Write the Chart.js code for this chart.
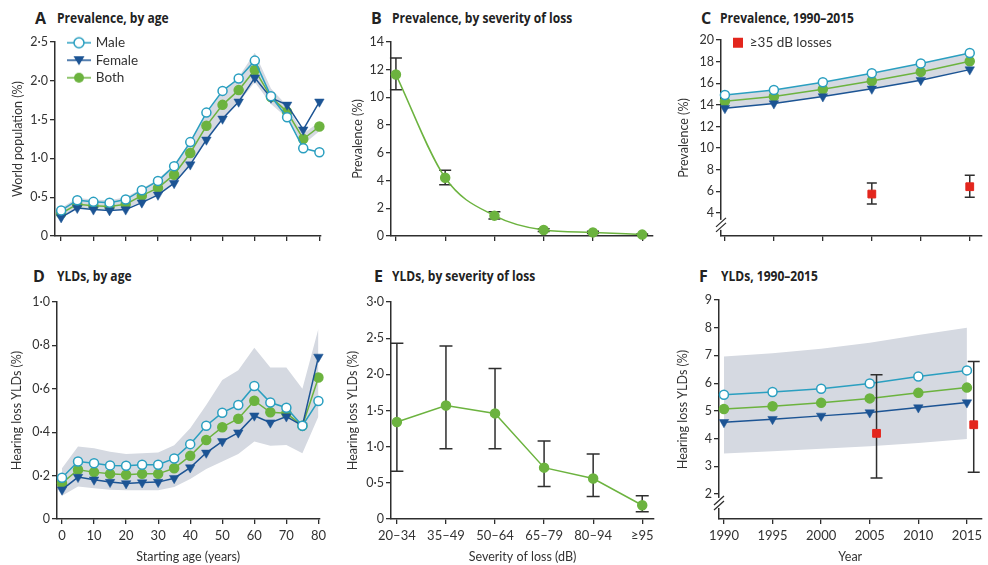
<!DOCTYPE html>
<html><head><meta charset="utf-8">
<script src="https://cdn.jsdelivr.net/npm/chart.js@4.4.1/dist/chart.umd.min.js"></script>
<style>
body{margin:0;background:#fff;width:988px;height:565px;position:relative;overflow:hidden;}
canvas{position:absolute;}
.ttl{position:absolute;white-space:nowrap;color:#222;font-family:"Liberation Sans Narrow","Liberation Sans",sans-serif;}
.ttl .L{position:absolute;font-weight:700;font-size:16px;font-family:"Open Sans",sans-serif;}
.ttl .T{position:absolute;font-weight:700;font-size:14px;transform:scaleX(0.86);transform-origin:0 50%;font-family:"Open Sans",sans-serif;}
</style></head><body>
<div class="ttl" style="left:0;top:0"><span class="L" style="left:35px;top:7px">A</span><span class="T" style="left:57px;top:8px">Prevalence, by age</span></div>
<div class="ttl" style="left:0;top:0"><span class="L" style="left:371px;top:7px">B</span><span class="T" style="left:392px;top:8px">Prevalence, by severity of loss</span></div>
<div class="ttl" style="left:0;top:0"><span class="L" style="left:701px;top:7px">C</span><span class="T" style="left:720px;top:8px">Prevalence, 1990–2015</span></div>
<div class="ttl" style="left:0;top:0"><span class="L" style="left:33px;top:265px">D</span><span class="T" style="left:57px;top:266px">YLDs, by age</span></div>
<div class="ttl" style="left:0;top:0"><span class="L" style="left:374px;top:265px">E</span><span class="T" style="left:392px;top:266px">YLDs, by severity of loss</span></div>
<div class="ttl" style="left:0;top:0"><span class="L" style="left:699px;top:265px">F</span><span class="T" style="left:721px;top:266px">YLDs, 1990–2015</span></div>
<canvas id="cA" width="330" height="230" style="left:0;top:30px"></canvas>
<canvas id="cB" width="330" height="230" style="left:330px;top:30px"></canvas>
<canvas id="cC" width="328" height="230" style="left:660px;top:30px"></canvas>
<canvas id="cD" width="330" height="275" style="left:0;top:290px"></canvas>
<canvas id="cE" width="330" height="275" style="left:330px;top:290px"></canvas>
<canvas id="cF" width="328" height="275" style="left:660px;top:290px"></canvas>
<script>
// ---------- data ----------
const ageStarts = [0,5,10,15,20,25,30,35,40,45,50,55,60,65,70,75,80];
const ageTicks = [0,10,20,30,40,50,60,70,80];
const prevMale   = [0.33,0.46,0.44,0.43,0.47,0.59,0.71,0.90,1.21,1.59,1.87,2.03,2.26,1.80,1.53,1.13,1.08];
const prevFemale = [0.24,0.36,0.34,0.33,0.34,0.43,0.53,0.68,0.92,1.24,1.51,1.73,2.04,1.78,1.69,1.37,1.73];
const prevBoth   = [0.29,0.41,0.39,0.38,0.41,0.52,0.62,0.79,1.07,1.42,1.69,1.88,2.14,1.79,1.60,1.25,1.41];
const prevBandHigh = [0.36,0.49,0.47,0.46,0.50,0.61,0.73,0.92,1.22,1.58,1.86,2.05,2.36,1.90,1.68,1.32,1.47];
const prevBandLow  = [0.25,0.36,0.35,0.34,0.35,0.44,0.54,0.69,0.93,1.25,1.52,1.72,1.98,1.70,1.52,1.18,1.35];
const prevAgeTicks = [0,0.5,1,1.5,2,2.5];

const severityLabels = ['20–34','35–49','50–64','65–79','80–94','≥95'];
const severityIdx = [0,1,2,3,4,5];
const sevPrev     = [11.65,4.2,1.47,0.43,0.26,0.10];
const sevPrevLow  = [10.55,3.7,1.22,0.33,0.18,0.05];
const sevPrevHigh = [12.85,4.75,1.75,0.53,0.34,0.15];
const sevPrevTicks = [0,2,4,6,8,10,12,14];

const years = [1990,1995,2000,2005,2010,2015];
const yearPrevMale   = [14.92,15.38,16.09,16.92,17.82,18.80];
const yearPrevFemale = [13.69,14.12,14.77,15.48,16.28,17.26];
const yearPrevBoth   = [14.34,14.77,15.45,16.20,17.05,18.03];
const yearPrevTicks  = [4,6,8,10,12,14,16,18,20];
const lossYears    = [2005,2015];
const lossPrev     = [5.75,6.43];
const lossPrevLow  = [4.83,5.45];
const lossPrevHigh = [6.77,7.50];

const yldMale   = [0.19,0.265,0.257,0.247,0.245,0.25,0.25,0.279,0.345,0.43,0.49,0.525,0.613,0.537,0.513,0.43,0.544];
const yldFemale = [0.135,0.193,0.181,0.17,0.164,0.168,0.17,0.188,0.237,0.305,0.358,0.398,0.476,0.444,0.472,0.43,0.747];
const yldBoth   = [0.165,0.227,0.216,0.208,0.204,0.208,0.208,0.234,0.291,0.364,0.423,0.462,0.545,0.492,0.487,0.43,0.652];
const yldBandHigh = [0.234,0.334,0.326,0.31,0.30,0.303,0.306,0.34,0.418,0.525,0.64,0.686,0.789,0.698,0.698,0.60,0.877];
const yldBandLow  = [0.107,0.15,0.142,0.135,0.132,0.132,0.132,0.147,0.184,0.23,0.265,0.30,0.357,0.338,0.341,0.303,0.472];
const yldAgeTicks = [0,0.2,0.4,0.6,0.8,1.0];

const sevYld     = [1.34,1.57,1.46,0.71,0.56,0.19];
const sevYldLow  = [0.66,0.97,0.97,0.45,0.31,0.10];
const sevYldHigh = [2.43,2.39,2.08,1.08,0.90,0.32];
const sevYldTicks = [0,0.5,1,1.5,2,2.5,3];

const yearYldMale   = [5.58,5.68,5.80,5.99,6.24,6.46];
const yearYldBoth   = [5.07,5.17,5.29,5.45,5.65,5.84];
const yearYldFemale = [4.59,4.70,4.82,4.94,5.12,5.30];
const yearYldBandHigh = [6.96,7.08,7.24,7.46,7.74,8.00];
const yearYldBandLow  = [3.46,3.54,3.63,3.72,3.84,3.99];
const yearYldTicks = [2,3,4,5,6,7,8,9];
const lossYldYears = [2005.7,2015.7];
const lossYld      = [4.19,4.50];
const lossYldLow   = [2.58,2.79];
const lossYldHigh  = [6.30,6.78];

const legendNames = ['Male','Female','Both'];
const lossLegend = '≥35 dB losses';

// ---------- styles ----------
const C_MALE='#2a9fc0', C_FEM='#1c5494', C_BOTH='#6cb33f', C_RED='#e3261d', C_BAND='#d5d9e1', AX='#2e2e2e', TXT='#333';
const FONT='Lato, "Open Sans", sans-serif';
Chart.defaults.font.family = FONT;
Chart.defaults.color = TXT;
Chart.defaults.animation = false;

const pts = (xs, ys) => xs.map((x,i)=>({x, y: ys[i]}));
const dot = d => v => v===0 ? '0' : v.toFixed(d).replace('.', '·');
const int = v => String(v);

// plugins
const errorBars = {
  id:'errorBars',
  beforeDatasetDraw(chart, args, opts){
    if(!opts || !opts.sets) return;
    const ctx = chart.ctx, ys = chart.scales.y;
    opts.sets.forEach(s=>{
      if(args.index !== s.dataset) return;
      const meta = chart.getDatasetMeta(s.dataset);
      ctx.save();
      ctx.strokeStyle = AX; ctx.lineWidth = 1.5;
      meta.data.forEach((el,i)=>{
        const x = el.x, y1 = ys.getPixelForValue(s.low[i]), y2 = ys.getPixelForValue(s.high[i]);
        ctx.beginPath();
        ctx.moveTo(x,y1); ctx.lineTo(x,y2);
        ctx.moveTo(x-s.cap,y1); ctx.lineTo(x+s.cap,y1);
        ctx.moveTo(x-s.cap,y2); ctx.lineTo(x+s.cap,y2);
        ctx.stroke();
      });
      ctx.restore();
    });
  }
};
const axisBreak = {
  id:'axisBreak',
  afterDraw(chart, args, opts){
    if(!opts || opts.value===undefined) return;
    const ctx = chart.ctx, y = chart.scales.y.getPixelForValue(opts.value), x = chart.chartArea.left;
    ctx.save();
    ctx.fillStyle='#fff'; ctx.fillRect(x-3, y-5, 6, 10);
    ctx.strokeStyle=AX; ctx.lineWidth=1.3;
    ctx.beginPath();
    ctx.moveTo(x-5,y+2); ctx.lineTo(x+5,y-7);
    ctx.moveTo(x-5,y+7); ctx.lineTo(x+5,y-2);
    ctx.stroke();
    ctx.restore();
  }
};
const legendShift = {
  id:'legendShift',
  afterLayout(chart, args, opts){
    if(!opts || !chart.legend) return;
    const l = chart.legend;
    l.left += opts.dx; l.right += opts.dx; l.top += opts.dy; l.bottom += opts.dy;
  }
};
Chart.register(errorBars, axisBreak, legendShift);

function icon(kind){
  const c = document.createElement('canvas');
  const w = kind==='rect' ? 12 : 24; c.width = w; c.height = 14;
  const g = c.getContext('2d');
  const m = w/2;
  g.lineWidth = 1.5;
  if(kind==='male'){ g.strokeStyle=C_MALE; g.beginPath(); g.moveTo(0,7); g.lineTo(w,7); g.stroke();
    g.fillStyle='#fff'; g.beginPath(); g.arc(m,7,5,0,Math.PI*2); g.fill(); g.stroke(); }
  if(kind==='female'){ g.strokeStyle=C_FEM; g.beginPath(); g.moveTo(0,7); g.lineTo(w,7); g.stroke();
    g.fillStyle=C_FEM; g.beginPath(); g.moveTo(m-5.5,3); g.lineTo(m+5.5,3); g.lineTo(m,12); g.closePath(); g.fill(); }
  if(kind==='both'){ g.strokeStyle=C_BOTH; g.beginPath(); g.moveTo(0,7); g.lineTo(w,7); g.stroke();
    g.fillStyle=C_BOTH; g.beginPath(); g.arc(m,7,5,0,Math.PI*2); g.fill(); }
  if(kind==='rect'){ g.fillStyle=C_RED; g.fillRect(1,2,10,10); }
  return c;
}

function yAxis(o){ return {
  type:'linear', min:o.min, max:o.max,
  afterFit: s => { s.width = o.width; },
  afterBuildTicks: s => { s.ticks = o.ticks.map(v=>({value:v})); },
  ticks:{ callback:o.fmt, font:{size:12.5}, color:TXT, padding:2 },
  grid:{ drawOnChartArea:false, drawTicks:true, tickLength:5, color:AX, lineWidth:1.3 },
  border:{ color:AX, width:1.5 },
  title:{ display:true, text:o.title, font:{size:12.5}, color:TXT, padding:{top:o.tp, bottom:0} }
};}
function xAxis(o){ return {
  type:'linear', min:o.min, max:o.max,
  afterFit: s => { s.height = o.height; },
  afterBuildTicks: s => { s.ticks = o.ticks.map(v=>({value:v})); },
  ticks:{ callback:o.fmt || (()=>''), font:{size:13}, color:TXT, padding:4, maxRotation:0, autoSkip:false },
  grid:{ drawOnChartArea:false, drawTicks:true, tickLength:5, color:AX, lineWidth:1.3 },
  border:{ color:AX, width:1.5 },
  title:{ display:!!o.title, text:o.title||'', font:{size:12.5}, color:TXT, padding:{top:0, bottom:1} }
};}

function lineSet(label, data, color, kind, order){
  const base = { label, data, borderColor:color, borderWidth:1.5, order, clip:false, tension:0,
    pointRadius: kind==='tri'?5.5:4.5, pointHoverRadius:4.5, pointBorderWidth:1.5 };
  if(kind==='open') return Object.assign(base,{pointBackgroundColor:'#fff', pointBorderColor:color, pointStyle:'circle'});
  if(kind==='tri') return Object.assign(base,{pointBackgroundColor:color, pointBorderColor:color, pointStyle:'triangle', pointRotation:180, pointBorderWidth:0.5});
  return Object.assign(base,{pointBackgroundColor:color, pointBorderColor:color, pointStyle:'circle'});
}
function bandSets(xs, hi, lo){
  return [
    { label:'hi', data:pts(xs,hi), borderWidth:0, pointRadius:0, backgroundColor:C_BAND, fill:'+1', order:10, tension:0 },
    { label:'lo', data:pts(xs,lo), borderWidth:0, pointRadius:0, backgroundColor:C_BAND, fill:false, order:11, tension:0 }
  ];
}
const sexLegend = {
  display:true, position:'chartArea', align:'start',
  labels:{ usePointStyle:true, pointStyleWidth:20, boxHeight:13, padding:4, font:{size:13.5}, color:TXT,
    generateLabels: () => [icon('male'),icon('female'),icon('both')].map((ic,i)=>({text:legendNames[i], pointStyle:ic, datasetIndex:i, hidden:false, fontColor:TXT, fillStyle:'transparent', strokeStyle:'transparent', lineWidth:0})) }
};
const noLegend = { display:false };
const baseOpts = (pad) => ({ responsive:false, animation:false, devicePixelRatio:1, layout:{padding:pad}, events:[] });

// A
new Chart(document.getElementById('cA'), {
  type:'line',
  data:{ datasets:[
    lineSet('Male', pts(ageStarts,prevMale), C_MALE, 'open', 1),
    lineSet('Female', pts(ageStarts,prevFemale), C_FEM, 'tri', 2),
    lineSet('Both', pts(ageStarts,prevBoth), C_BOTH, 'fill', 3),
    ...bandSets(ageStarts, prevBandHigh, prevBandLow)
  ]},
  options:Object.assign(baseOpts({top:12,right:9,left:0,bottom:0}),{
    scales:{ x:xAxis({min:-1.9,max:80.5,ticks:ageTicks,height:24}),
             y:yAxis({min:0,max:2.5,ticks:prevAgeTicks,fmt:dot(1),width:55,title:'World population (%)',tp:10}) },
    plugins:{ legend:sexLegend, legendShift:{dx:10,dy:2}, tooltip:{enabled:false} }
  })
});

// B
new Chart(document.getElementById('cB'), {
  type:'line',
  data:{ datasets:[ Object.assign(lineSet('Prevalence', pts(severityIdx,sevPrev), C_BOTH, 'fill', 1), {cubicInterpolationMode:'monotone'}) ]},
  options:Object.assign(baseOpts({top:12,right:7,left:0,bottom:0}),{
    scales:{ x:xAxis({min:-0.1,max:5.22,ticks:severityIdx,height:24}),
             y:yAxis({min:0,max:14,ticks:sevPrevTicks,fmt:int,width:61,title:'Prevalence (%)',tp:20}) },
    plugins:{ legend:noLegend, tooltip:{enabled:false}, errorBars:{sets:[{dataset:0,low:sevPrevLow,high:sevPrevHigh,cap:6}]} }
  })
});

// C
new Chart(document.getElementById('cC'), {
  type:'line',
  data:{ datasets:[
    { label:lossLegend, data:pts(lossYears,lossPrev), showLine:false, pointStyle:'rect', pointRadius:5.5, backgroundColor:C_RED, borderColor:C_RED, pointBackgroundColor:C_RED, pointBorderColor:C_RED, order:0, clip:false },
    lineSet('Male', pts(years,yearPrevMale), C_MALE, 'open', 1),
    lineSet('Female', pts(years,yearPrevFemale), C_FEM, 'tri', 2),
    lineSet('Both', pts(years,yearPrevBoth), C_BOTH, 'fill', 3),
    { label:'hi', data:pts(years,yearPrevMale), borderWidth:0, pointRadius:0, backgroundColor:C_BAND, fill:'+1', order:10 },
    { label:'lo', data:pts(years,yearPrevFemale), borderWidth:0, pointRadius:0, backgroundColor:C_BAND, fill:false, order:11 }
  ]},
  options:Object.assign(baseOpts({top:10,right:5,left:0,bottom:0}),{
    scales:{ x:xAxis({min:1989.6,max:2016.2,ticks:years,height:24}),
             y:yAxis({min:1.87,max:20,ticks:yearPrevTicks,fmt:int,width:61,title:'Prevalence (%)',tp:16}) },
    plugins:{ legend:{ display:true, position:'chartArea', align:'start',
                labels:{ usePointStyle:true, pointStyleWidth:10, boxHeight:13, padding:4, font:{size:13.5}, color:TXT,
                  generateLabels:()=>[{text:lossLegend, pointStyle:icon('rect'), datasetIndex:0, hidden:false, fontColor:TXT, fillStyle:'transparent', strokeStyle:'transparent', lineWidth:0}] } },
              legendShift:{dx:8,dy:2}, tooltip:{enabled:false},
              errorBars:{sets:[{dataset:0,low:lossPrevLow,high:lossPrevHigh,cap:5}]}, axisBreak:{value:2.9} }
  })
});

// D
new Chart(document.getElementById('cD'), {
  type:'line',
  data:{ datasets:[
    lineSet('Male', pts(ageStarts,yldMale), C_MALE, 'open', 1),
    lineSet('Female', pts(ageStarts,yldFemale), C_FEM, 'tri', 2),
    lineSet('Both', pts(ageStarts,yldBoth), C_BOTH, 'fill', 3),
    ...bandSets(ageStarts, yldBandHigh, yldBandLow)
  ]},
  options:Object.assign(baseOpts({top:12,right:10,left:0,bottom:0}),{
    scales:{ x:xAxis({min:-1.56,max:80.3,ticks:ageTicks,fmt:int,height:46,title:'Starting age (years)'}),
             y:yAxis({min:0,max:1,ticks:yldAgeTicks,fmt:dot(1),width:57,title:'Hearing loss YLDs (%)',tp:9}) },
    plugins:{ legend:noLegend, tooltip:{enabled:false} }
  })
});

// E
new Chart(document.getElementById('cE'), {
  type:'line',
  data:{ datasets:[ lineSet('YLDs', pts(severityIdx,sevYld), C_BOTH, 'fill', 1) ]},
  options:Object.assign(baseOpts({top:12,right:5,left:0,bottom:0}),{
    scales:{ x:xAxis({min:-0.12,max:5.24,ticks:severityIdx,fmt:(v)=>severityLabels[v],height:46,title:'Severity of loss (dB)'}),
             y:yAxis({min:0,max:3,ticks:sevYldTicks,fmt:dot(1),width:61,title:'Hearing loss YLDs (%)',tp:15}) },
    plugins:{ legend:noLegend, tooltip:{enabled:false}, errorBars:{sets:[{dataset:0,low:sevYldLow,high:sevYldHigh,cap:6.5}]} }
  })
});

// F
new Chart(document.getElementById('cF'), {
  type:'line',
  data:{ datasets:[
    { label:lossLegend, data:pts(lossYldYears,lossYld), showLine:false, pointStyle:'rect', pointRadius:5.5, backgroundColor:C_RED, borderColor:C_RED, pointBackgroundColor:C_RED, pointBorderColor:C_RED, order:0, clip:false },
    lineSet('Male', pts(years,yearYldMale), C_MALE, 'open', 1),
    lineSet('Female', pts(years,yearYldFemale), C_FEM, 'tri', 2),
    lineSet('Both', pts(years,yearYldBoth), C_BOTH, 'fill', 3),
    ...bandSets(years, yearYldBandHigh, yearYldBandLow)
  ]},
  options:Object.assign(baseOpts({top:10,right:3,left:0,bottom:0}),{
    scales:{ x:xAxis({min:1989.49,max:2016.5,ticks:years,fmt:int,height:46,title:'Year'}),
             y:yAxis({min:1.1,max:9,ticks:yearYldTicks,fmt:int,width:59,title:'Hearing loss YLDs (%)',tp:15}) },
    plugins:{ legend:noLegend, tooltip:{enabled:false},
              errorBars:{sets:[{dataset:0,low:lossYldLow,high:lossYldHigh,cap:6}]}, axisBreak:{value:1.68} }
  })
});
</script>
</body></html>
